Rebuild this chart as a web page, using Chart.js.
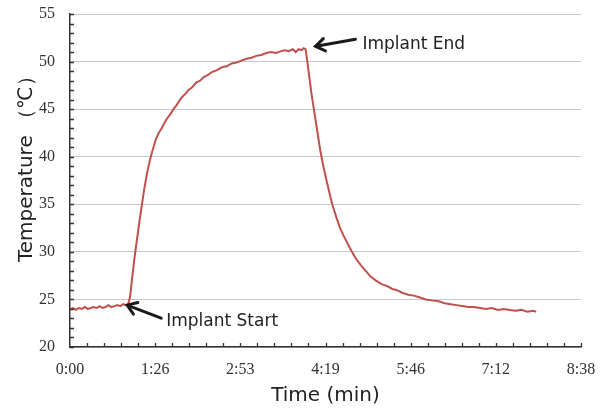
<!DOCTYPE html>
<html>
<head>
<meta charset="utf-8">
<script src="https://cdn.jsdelivr.net/npm/chart.js@4/dist/chart.umd.min.js"></script>
<style>
  html, body { margin: 0; padding: 0; background: #fff; }
  #wrap { width: 610px; height: 409px; }
</style>
</head>
<body>
<div id="wrap"><canvas id="temp-chart"></canvas></div>
<script>
'use strict';

// time since start (seconds) and temperature readings (deg C)
const timeSec = [
  0, 3, 6, 9, 12, 15, 18, 21, 24, 27, 30, 33, 36, 39, 42, 45, 48, 51, 54, 57, 59,
  61, 63, 65, 67, 69, 71, 73, 75, 77, 79, 81, 83, 85, 87, 90, 93, 96, 99, 102,
  105, 108, 111, 114, 117, 120, 124, 128, 132, 136, 140, 144, 149, 154, 159, 164,
  169, 174, 179, 184, 189, 194, 199, 204, 209, 214, 218, 222, 226, 229, 232, 235,
  237, 239, 241, 243, 245, 248, 251, 254, 257, 260, 263, 266, 270, 274, 278, 282,
  286, 290, 295, 300, 305, 310, 316, 322, 327, 331, 337, 343, 349, 355, 361, 367,
  374, 380, 386, 392, 398, 404, 410, 416, 422, 428, 434, 440, 446, 452, 458, 464,
  470, 473
];
const tempC = [
  24.0, 24.1, 23.9, 24.1, 24.0, 24.2, 24.0, 24.1, 24.2, 24.1, 24.3, 24.1, 24.2, 24.4, 24.2, 24.3, 24.4, 24.3, 24.5, 24.4, 24.5,
  25.3, 27.2, 29.0, 30.6, 32.1, 33.6, 35.0, 36.4, 37.6, 38.7, 39.6, 40.4, 41.1, 41.8, 42.5, 43.0, 43.6, 44.1, 44.5,
  45.0, 45.4, 45.9, 46.3, 46.6, 47.0, 47.3, 47.8, 48.0, 48.4, 48.6, 48.9, 49.1, 49.4, 49.5, 49.8,
  49.9, 50.1, 50.3, 50.4, 50.6, 50.7, 50.9, 51.0, 50.9, 51.1, 51.2, 51.1, 51.3, 51.0, 51.3, 51.2,
  51.4, 51.3, 49.8, 48.2, 46.6, 44.6, 42.6, 40.6, 39.0, 37.6, 36.3, 35.0, 33.7, 32.5, 31.6, 30.8,
  30.0, 29.3, 28.6, 28.0, 27.4, 27.0, 26.6, 26.4, 26.1, 26.0, 25.7, 25.5, 25.4, 25.2, 25.0, 24.9,
  24.8, 24.6, 24.5, 24.4, 24.3, 24.2, 24.2, 24.1, 24.0, 24.1, 23.9, 24.0, 23.9, 23.8, 23.9, 23.7,
  23.8, 23.7
];

// axis ticks
const xTickSec = [0, 86.4, 172.8, 259.2, 345.6, 432, 518.4];
const yTicks = [20, 25, 30, 35, 40, 45, 50, 55];

// annotation anchors (where the arrow heads point)
const notes = [
  { text: 'Implant Start', x: 58, y: 24.4, dx: 34, dy: 13, tx: 39, ty: 16 },
  { text: 'Implant End', x: 249, y: 51.6, dx: 40, dy: -7, tx: 47, ty: -2 }
];

function fmtTime (s) {
  const r = Math.round(s);
  return Math.floor(r / 60) + ':' + String(r % 60).padStart(2, '0');
}

const points = timeSec.map((t, i) => ({ x: t, y: tempC[i] }));

// inward tick marks, y title, arrows + labels
const extras = {
  id: 'extras',
  afterDraw (chart) {
    const ctx = chart.ctx;
    const xs = chart.scales.x;
    const ys = chart.scales.y;
    const area = chart.chartArea;
    ctx.save();

    ctx.strokeStyle = '#333';
    ctx.lineWidth = 1.3;
    ctx.beginPath();
    for (let v = yTicks[0]; v <= yTicks[yTicks.length - 1]; v += 1) {
      const py = Math.round(ys.getPixelForValue(v)) + 0.5;
      ctx.moveTo(area.left, py);
      ctx.lineTo(area.left + 4, py);
    }
    const step = (xTickSec[1] - xTickSec[0]) / 5;
    for (let k = 1; k <= 30; k++) {
      const px = Math.round(xs.getPixelForValue(k * step)) + 0.5;
      ctx.moveTo(px, area.bottom);
      ctx.lineTo(px, area.bottom - 4);
    }
    ctx.stroke();

    // y axis title
    ctx.fillStyle = '#222';
    ctx.font = '20px "DejaVu Sans"';
    ctx.textAlign = 'left';
    ctx.textBaseline = 'alphabetic';
    ctx.translate(32, 262);
    ctx.rotate(-Math.PI / 2);
    ctx.fillText('Temperature （℃）', 0, 0);
    ctx.setTransform(1, 0, 0, 1, 0, 0);

    // arrows with open heads
    notes.forEach(n => {
      const hx = xs.getPixelForValue(n.x);
      const hy = ys.getPixelForValue(n.y);
      const tx = hx + n.dx;
      const ty = hy + n.dy;
      const ang = Math.atan2(hy - ty, hx - tx);
      ctx.strokeStyle = '#1a1a1a';
      ctx.lineWidth = 3;
      ctx.lineCap = 'round';
      ctx.lineJoin = 'miter';
      ctx.beginPath();
      ctx.moveTo(tx, ty);
      ctx.lineTo(hx - 2 * Math.cos(ang), hy - 2 * Math.sin(ang));
      ctx.stroke();
      ctx.beginPath();
      ctx.moveTo(hx - 11 * Math.cos(ang - 0.6), hy - 11 * Math.sin(ang - 0.6));
      ctx.lineTo(hx, hy);
      ctx.lineTo(hx - 11 * Math.cos(ang + 0.6), hy - 11 * Math.sin(ang + 0.6));
      ctx.stroke();

      ctx.fillStyle = '#222';
      ctx.font = '17px "DejaVu Sans"';
      ctx.textBaseline = 'middle';
      ctx.fillText(n.text, hx + n.tx, hy + n.ty);
    });
    ctx.restore();
  }
};

const ctxEl = document.getElementById('temp-chart').getContext('2d');

new Chart(ctxEl, {
  type: 'line',
  data: {
    datasets: [{
      data: points,
      borderColor: '#C0504D',
      borderWidth: 2,
      pointRadius: 0,
      tension: 0
    }]
  },
  options: {
    responsive: true,
    maintainAspectRatio: false,
    animation: false,
    layout: { padding: { top: 14, right: 29, left: 0, bottom: 0 } },
    plugins: { legend: { display: false }, tooltip: { enabled: false } },
    scales: {
      x: {
        type: 'linear',
        min: 0,
        max: 518.4,
        afterBuildTicks: s => { s.ticks = xTickSec.map(v => ({ value: v })); },
        afterFit: s => { s.height = 62; },
        grid: { display: false },
        border: { color: '#333', width: 1.5 },
        ticks: {
          padding: 5,
          color: '#333',
          font: { family: '"Liberation Serif"', size: 16 },
          maxRotation: 0,
          callback: v => fmtTime(v)
        },
        title: {
          display: true,
          text: 'Time (min)',
          color: '#222',
          font: { family: '"DejaVu Sans"', size: 20 },
          padding: { top: 0, bottom: 1 }
        }
      },
      y: {
        min: 20,
        max: 55,
        afterBuildTicks: s => { s.ticks = yTicks.map(v => ({ value: v })); },
        afterFit: s => { s.width = 70; s.paddingTop = 0; s.paddingBottom = 0; },
        grid: { color: '#c8c8c8', lineWidth: 1, drawTicks: false },
        border: { color: '#333', width: 1.5 },
        ticks: {
          padding: 15,
          color: '#333',
          font: { family: '"Liberation Serif"', size: 16 }
        }
      }
    }
  },
  plugins: [extras]
});
</script>
</body>
</html>
